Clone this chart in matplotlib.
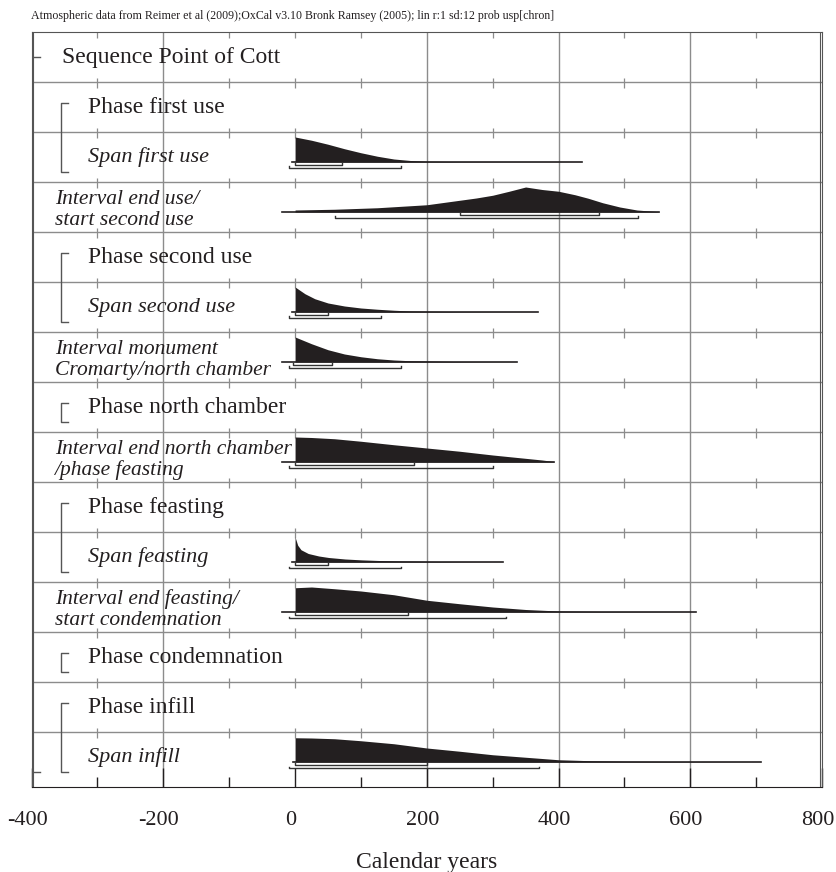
import matplotlib
matplotlib.use('Agg')
from matplotlib import pyplot as plt
from matplotlib import transforms

plt.rcParams['font.family'] = ['Liberation Serif', 'DejaVu Serif']

# rows of the OxCal plot, top to bottom
row_names = ['Sequence Point of Cott', 'Phase first use', 'Span first use',
             'Interval end use/\nstart second use', 'Phase second use',
             'Span second use', 'Interval monument\nCromarty/north chamber',
             'Phase north chamber', 'Interval end north chamber\n/phase feasting',
             'Phase feasting', 'Span feasting',
             'Interval end feasting/\nstart condemnation', 'Phase condemnation',
             'Phase infill', 'Span infill']
row_kinds = ['sequence', 'phase', 'span', 'interval', 'phase', 'span', 'interval',
             'phase', 'interval', 'phase', 'span', 'interval', 'phase', 'phase', 'span']
phase_rows = [(1, 2), (4, 5), (7, 7), (9, 10), (12, 12), (13, 14)]
sequence_rows = (0, 14)

# posterior densities (relative to max)
span_first_yr = [0, 25, 50, 75, 100, 125, 150, 175, 200, 250, 300, 350, 400, 435]
span_first_p = [1.0, 0.87, 0.71, 0.53, 0.37, 0.23, 0.12, 0.06, 0.03, 0.015, 0.01, 0.006, 0.004, 0.0]

interval_use_yr = [0, 60, 125, 200, 250, 275, 300, 325, 350, 375, 400, 425, 445, 467, 493, 519, 553]
interval_use_p = [0.08, 0.11, 0.17, 0.29, 0.47, 0.56, 0.67, 0.83, 1.0, 0.9, 0.83, 0.69, 0.55, 0.37, 0.2, 0.08, 0.01]

span_second_yr = [0, 15, 30, 50, 75, 100, 125, 150, 175, 200, 250, 300, 369]
span_second_p = [1.0, 0.73, 0.53, 0.36, 0.24, 0.16, 0.11, 0.07, 0.04, 0.03, 0.015, 0.008, 0.0]

monument_yr = [0, 25, 50, 75, 100, 125, 150, 175, 200, 240, 280, 337]
monument_p = [1.0, 0.73, 0.49, 0.32, 0.21, 0.13, 0.08, 0.05, 0.04, 0.02, 0.01, 0.0]

north_yr = [0, 25, 60, 100, 150, 200, 250, 300, 345, 375, 393]
north_p = [1.0, 0.98, 0.93, 0.83, 0.69, 0.56, 0.43, 0.28, 0.16, 0.08, 0.02]

span_feasting_yr = [0, 4, 9, 20, 36, 51, 76, 101, 127, 162, 200, 249, 316]
span_feasting_p = [1.0, 0.67, 0.49, 0.34, 0.24, 0.18, 0.12, 0.085, 0.06, 0.04, 0.025, 0.012, 0.0]

interval_feasting_yr = [0, 25, 60, 100, 150, 200, 250, 300, 350, 400, 465, 520, 608]
interval_feasting_p = [0.97, 1.0, 0.93, 0.84, 0.69, 0.47, 0.33, 0.2, 0.1, 0.04, 0.02, 0.012, 0.0]

span_infill_yr = [0, 25, 60, 100, 150, 200, 250, 300, 350, 400, 450, 500, 600, 708]
span_infill_p = [0.97, 0.96, 0.93, 0.85, 0.73, 0.56, 0.43, 0.29, 0.19, 0.09, 0.05, 0.03, 0.015, 0.0]

# row, years, density, baseline extent, 68.2% range, 95.4% range
dists = [
    (2, span_first_yr, span_first_p, (-4, 435), (0, 71), (-9, 161)),
    (3, interval_use_yr, interval_use_p, (-20, 553), (250, 461), (61, 520)),
    (5, span_second_yr, span_second_p, (-4, 369), (0, 50), (-9, 131)),
    (6, monument_yr, monument_p, (-20, 337), (-3, 56), (-9, 161)),
    (8, north_yr, north_p, (-20, 393), (0, 181), (-9, 300)),
    (10, span_feasting_yr, span_feasting_p, (-4, 316), (0, 50), (-9, 161)),
    (11, interval_feasting_yr, interval_feasting_p, (-20, 608), (0, 171), (-9, 321)),
    (14, span_infill_yr, span_infill_p, (-3, 708), (0, 200), (-9, 370)),
]

x_major = [-400, -200, 0, 200, 400, 600, 800]
x_minor = [-300, -100, 100, 300, 500, 700]
grid_years = [-200, 200, 400, 600]
row_tick_years = [-300, -100, 0, 100, 300, 500, 700]

ink = '#231f20'
grey = '#8c8c8c'

fig = plt.figure(figsize=(8.36, 8.72), dpi=100)
ax = fig.add_axes([31.6 / 836, 1 - 787 / 872, (822 - 31.6) / 836, 755 / 872])
ax.set_xlim(-400, 800)
ax.set_ylim(15.1, 0)

for v in grid_years:
    ax.axvline(v, color=grey, lw=1.0, zorder=1)
for b in range(1, 15):
    ax.axhline(b, color=grey, lw=1.0, zorder=1)
for b in range(0, 15):
    ax.vlines(row_tick_years, b - 0.08, b + 0.12, color=grey, lw=0.9, zorder=1)

# labels
for i, (name, kind) in enumerate(zip(row_names, row_kinds)):
    if kind == 'sequence':
        ax.text(-354, i + 0.62, name, fontsize=17, color=ink, va='baseline')
    elif kind == 'phase':
        ax.text(-315, i + 0.62, name, fontsize=17, color=ink, va='baseline')
    elif kind == 'span':
        ax.text(-315, i + 0.6, name, fontsize=16, style='italic', color=ink, va='baseline')
    else:
        l1, l2 = name.split('\n')
        ax.text(-365, i + 0.44, l1, fontsize=15.5, style='italic', color=ink, va='baseline')
        ax.text(-365, i + 0.86, l2, fontsize=15.5, style='italic', color=ink, va='baseline')

# structure brackets
s0, s1 = sequence_rows
ax.plot([-387, -399, -399, -387], [s0 + 0.5, s0 + 0.5, s1 + 0.8, s1 + 0.8], color='#555555', lw=1)
for a, b in phase_rows:
    ax.plot([-345, -356, -356, -345], [a + 0.42, a + 0.42, b + 0.8, b + 0.8], color='#555555', lw=1)

# distributions
for row, yrs, p, (b0, b1), r68, r95 in dists:
    base = row + 0.6
    top = [base - 0.5 * v for v in p]
    ax.fill_between(yrs, base, top, color=ink, lw=0, zorder=3)
    ax.plot([b0, b1], [base, base], color=ink, lw=1.2, zorder=4)
    for (a, b), off in ((r68, 0.055), (r95, 0.12)):
        y = base + off
        ax.plot([a, a, b, b], [y - 0.03, y, y, y - 0.03], color='#333333', lw=1, zorder=4)

ax.set_xticks(x_major)
ax.set_xticklabels([str(v) for v in x_major])
ax.set_xticks(x_minor, minor=True)
ax.set_yticks([])
ax.tick_params(axis='x', which='major', direction='in', length=14, width=1,
               color=ink, labelsize=16, pad=17, labelcolor=ink)
ax.tick_params(axis='x', which='minor', direction='in', length=7, width=1, color=ink)
shift = transforms.ScaledTranslation(-0.045, 0, fig.dpi_scale_trans)
for lab in ax.get_xticklabels():
    lab.set_transform(lab.get_transform() + shift)
for s in ['top', 'left', 'right']:
    ax.spines[s].set_color('#555555')
ax.spines['bottom'].set_color(ink)
ax.axvline(-397.5, color='#555555', lw=0.8)
ax.axvline(797.5, color='#555555', lw=0.8)
ax.set_xlabel('Calendar years', fontsize=17, color=ink, labelpad=16)

fig.text(31 / 836, 1 - 19 / 872,
         'Atmospheric data from Reimer et al (2009);OxCal v3.10 Bronk Ramsey (2005); lin r:1 sd:12 prob usp[chron]',
         fontsize=8.6, color=ink, va='baseline')

fig.savefig('out.png', dpi=100)
